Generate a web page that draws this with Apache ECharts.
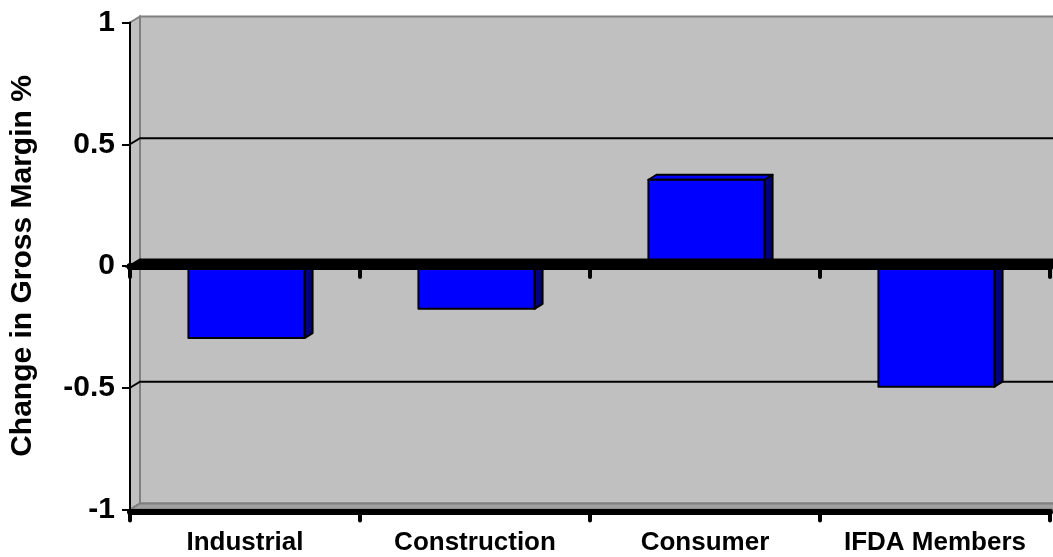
<!DOCTYPE html>
<html>
<head>
<meta charset="utf-8">
<title>Change in Gross Margin</title>
<script src="https://cdn.jsdelivr.net/npm/echarts@6/dist/echarts.min.js"></script>
<style>
  html, body { margin: 0; padding: 0; background: #ffffff; }
  #chart { width: 1053px; height: 557px; }
</style>
</head>
<body>
<div id="chart"></div>
<script>
// ---- data ----
const categories = ['Industrial', 'Construction', 'Consumer', 'IFDA Members'];
const marginChange = [-0.3, -0.18, 0.35, -0.5];
const gridValues = [-0.5, 0.5];
const yMin = -1;
const yMax = 1;
const yStep = 0.5;
const axisTitle = 'Change in Gross Margin %';

// ---- styling ----
const FONT = "'Liberation Sans', Arial, Helvetica, sans-serif";
const DX = 10, DY = -6;          // depth of the walls
const BAR_DX = 8, BAR_DY = -5;   // depth of each column
const WALL = '#c0c0c0';
const EDGE = '#808080';
const BAR_FRONT = '#0000ff';
const BAR_SIDE = '#000080';

const chart = echarts.init(document.getElementById('chart'), null, { renderer: 'canvas' });

// back wall, side wall and floor
function renderWalls(params, api) {
  const cs = params.coordSys;
  const left = cs.x;
  const right = cs.x + cs.width + 40;
  const yTop = api.coord([0, yMax])[1];
  const yBot = api.coord([0, yMin])[1];
  return {
    type: 'group',
    children: [
      {
        type: 'rect',
        shape: { x: left + DX, y: yTop + DY, width: right - left, height: yBot - yTop },
        style: { fill: WALL, stroke: EDGE, lineWidth: 2 }
      },
      {
        type: 'polygon',
        shape: { points: [[left, yTop], [left + DX, yTop + DY], [left + DX, yBot + DY], [left, yBot]] },
        style: { fill: WALL, stroke: EDGE, lineWidth: 2 }
      },
      {
        type: 'polygon',
        shape: { points: [[left, yBot], [left + DX, yBot + DY], [right, yBot + DY], [right, yBot]] },
        style: { fill: '#a0a0a0', stroke: EDGE, lineWidth: 2 }
      }
    ]
  };
}

// gridlines running along the side wall and the back wall
function renderGridline(params, api) {
  const cs = params.coordSys;
  const left = cs.x;
  const right = cs.x + cs.width + 40;
  const y = api.coord([0, api.value(1)])[1];
  return {
    type: 'polyline',
    shape: { points: [[left, y], [left + DX, y + DY], [right, y + DY]] },
    style: { fill: null, stroke: '#000000', lineWidth: 2 }
  };
}

// the zero plane slab
function renderZeroPlane(params, api) {
  const cs = params.coordSys;
  const left = cs.x;
  const right = cs.x + cs.width + 40;
  const y0 = api.coord([0, 0])[1];
  return {
    type: 'polygon',
    shape: { points: [[left, y0], [left + DX, y0 + DY], [right, y0 + DY], [right, y0]] },
    style: { fill: '#000000', stroke: '#000000', lineWidth: 3 }
  };
}

// 3D column: front face, right side and top
function renderColumn(params, api) {
  const i = api.value(0);
  const v = api.value(1);
  const base = api.coord([i, 0]);
  const tip = api.coord([i, v]);
  const band = api.size([1, 0])[0];
  const w = band * 0.505;
  const xl = base[0] - w / 2 + 1.5;
  const xr = xl + w;
  const yT = Math.min(base[1], tip[1]) - 1;
  const yB = Math.max(base[1], tip[1]) - 1;
  const line = { stroke: '#000000', lineWidth: 2, lineJoin: 'round' };
  return {
    type: 'group',
    children: [
      {
        type: 'polygon',
        shape: { points: [[xr, yT], [xr + BAR_DX, yT + BAR_DY], [xr + BAR_DX, yB + BAR_DY], [xr, yB]] },
        style: Object.assign({ fill: BAR_SIDE }, line)
      },
      {
        type: 'polygon',
        shape: { points: [[xl, yT], [xl + BAR_DX, yT + BAR_DY], [xr + BAR_DX, yT + BAR_DY], [xr, yT]] },
        style: Object.assign({ fill: BAR_FRONT }, line)
      },
      {
        type: 'rect',
        shape: { x: xl, y: yT, width: w, height: yB - yT },
        style: Object.assign({ fill: BAR_FRONT }, line)
      }
    ]
  };
}

const labelFont = { fontFamily: FONT, fontWeight: 'bold', color: '#000000' };

const option = {
  animation: false,
  backgroundColor: '#ffffff',
  grid: {
    left: 130,
    right: 3,
    top: 22.5,
    bottom: 47.5,
    containLabel: false,
    outerBoundsMode: 'none'
  },
  xAxis: [
    {
      type: 'category',
      data: categories,
      position: 'bottom',
      offset: 2,
      z: 10,
      axisLine: { onZero: false, lineStyle: { color: '#000000', width: 6 } },
      axisTick: { show: true, length: 9, lineStyle: { color: '#000000', width: 4, cap: 'round' } },
      axisLabel: Object.assign({ interval: 0, fontSize: 26, margin: 18 }, labelFont),
      splitLine: { show: false }
    },
    {
      type: 'category',
      data: categories,
      position: 'top',
      z: 10,
      axisLine: { show: true, onZero: true, lineStyle: { color: '#000000', width: 7 } },
      axisTick: { show: true, inside: true, length: 11, lineStyle: { color: '#000000', width: 4, cap: 'round' } },
      axisLabel: { show: false },
      splitLine: { show: false }
    }
  ],
  yAxis: {
    type: 'value',
    min: yMin,
    max: yMax,
    interval: yStep,
    z: 10,
    name: axisTitle,
    nameLocation: 'middle',
    nameRotate: 90,
    nameGap: 92,
    nameTextStyle: Object.assign({ fontSize: 30 }, labelFont),
    axisLine: { show: true, lineStyle: { color: '#000000', width: 2 } },
    axisTick: { show: true, length: 8, lineStyle: { color: '#000000', width: 2 } },
    axisLabel: Object.assign({ fontSize: 30, margin: 15 }, labelFont),
    splitLine: { show: false }
  },
  series: [
    {
      type: 'custom',
      name: 'walls',
      z: 1,
      silent: true,
      clip: false,
      renderItem: renderWalls,
      data: [[0, 0]]
    },
    {
      type: 'custom',
      name: 'gridlines',
      z: 1,
      silent: true,
      clip: false,
      renderItem: renderGridline,
      data: gridValues.map(v => [0, v])
    },
    {
      type: 'custom',
      name: 'Change in Gross Margin %',
      z: 2,
      clip: false,
      renderItem: renderColumn,
      encode: { x: 0, y: 1 },
      data: categories.map((c, i) => [i, marginChange[i]])
    },
    {
      type: 'custom',
      name: 'zero plane',
      z: 3,
      silent: true,
      clip: false,
      renderItem: renderZeroPlane,
      data: [[0, 0]]
    }
  ]
};

chart.setOption(option);
</script>
</body>
</html>
